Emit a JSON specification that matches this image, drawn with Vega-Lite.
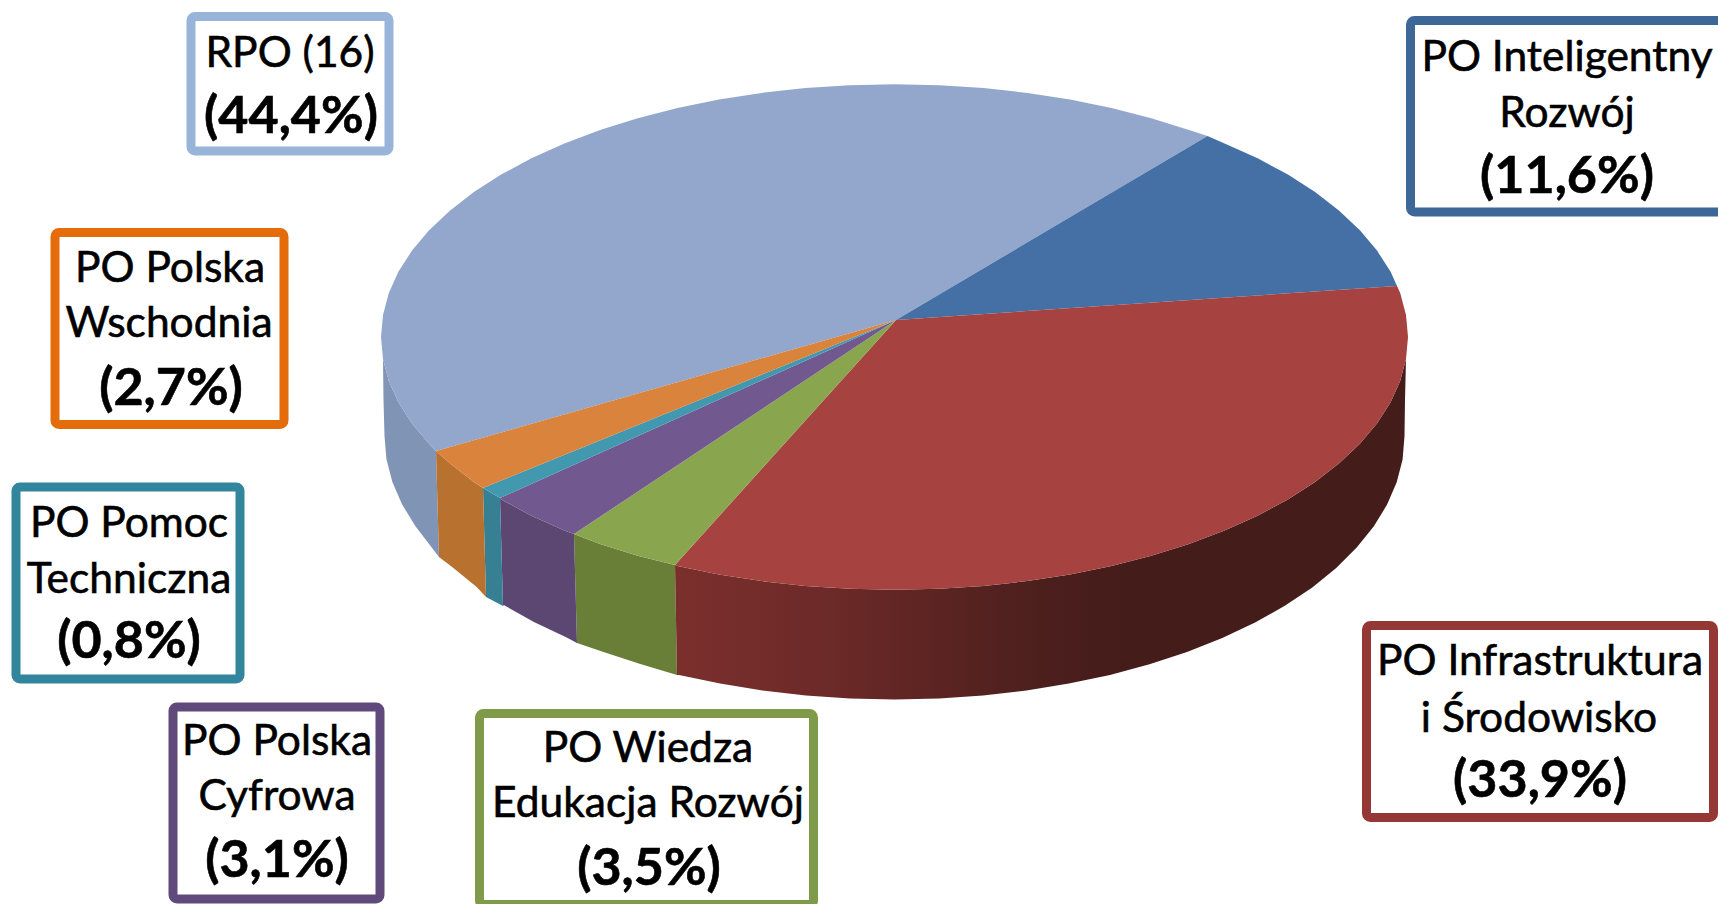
{
"$schema":"https://vega.github.io/schema/vega-lite/v6.json",
"width":1718,"height":904,"padding":0,"autosize":{"type":"none"},"background":"#ffffff",
"config":{"view":{"stroke":null}},
"datasets":{
"slices":[
{"name":"RPO (16)","share":44.4,"label":"(44,4%)","left":191,"right":389,"top":16.5,"bottom":151,"labelX":291,"labelY":133,
"face":{"type":"Polygon","coordinates":[[[896,320],[1207.5,136],[1189,130],[1151.3,118.2],[1111.5,108],[1070.1,99.5],[1027.4,92.9],[983.6,88.1],[939.3,85.3],[894.5,84.3],[849.7,85.3],[805.4,88.1],[761.6,92.9],[718.9,99.5],[677.5,108],[637.7,118.2],[600,130],[564.4,143.4],[531.4,158.3],[501.1,174.6],[473.9,192],[449.8,210.7],[429.1,230.2],[412,250.6],[398.5,271.6],[388.8,293.1],[383,315],[381,337],[383,359],[388.8,380.9],[398.5,402.4],[412,423.4],[429.1,443.8],[436,451],[896,320]]]},
"wall":{"type":"Polygon","coordinates":[[[383,359],[388.8,380.9],[398.5,402.4],[412,423.4],[429.1,443.8],[436,451],[439,557],[415.3,525.9],[401.9,504.1],[392.3,481.7],[386.4,458.9],[384.5,436],[383.5,400],[383,359]]]}},
{"name":"PO Inteligentny Rozwój","share":11.6,"label":"(11,6%)","left":1410.5,"right":1726,"top":20.5,"bottom":212,"labelX":1567,"labelY":193,
"face":{"type":"Polygon","coordinates":[[[896,320],[1397,286],[1390.5,271.6],[1377,250.6],[1359.9,230.2],[1339.2,210.7],[1315.1,192],[1287.9,174.6],[1257.6,158.3],[1224.6,143.4],[1207.5,136],[896,320]]]}},
{"name":"PO Infrastruktura i Środowisko","share":33.9,"label":"(33,9%)","left":1366.5,"right":1713.5,"top":625.5,"bottom":817.5,"labelX":1540,"labelY":797,
"face":{"type":"Polygon","coordinates":[[[896,320],[1397,286],[1400.2,293.1],[1406,315],[1408,337],[1406,359],[1400.2,380.9],[1390.5,402.4],[1377,423.4],[1359.9,443.8],[1339.2,463.3],[1315.1,482],[1287.9,499.4],[1257.6,515.7],[1224.6,530.6],[1189,544],[1151.3,555.8],[1111.5,566],[1070.1,574.5],[1027.4,581.1],[983.6,585.9],[939.3,588.7],[894.5,589.7],[849.7,588.7],[805.4,585.9],[761.6,581.1],[718.9,574.5],[677.5,566],[675,565],[896,320]]]},
"wall":{"type":"Polygon","coordinates":[[[675,565],[677.5,566],[718.9,574.5],[761.6,581.1],[805.4,585.9],[849.7,588.7],[894.5,589.7],[939.3,588.7],[983.6,585.9],[1027.4,581.1],[1070.1,574.5],[1111.5,566],[1151.3,555.8],[1189,544],[1224.6,530.6],[1257.6,515.7],[1287.9,499.4],[1315.1,482],[1339.2,463.3],[1359.9,443.8],[1377,423.4],[1390.5,402.4],[1400.2,380.9],[1406,359],[1405,400],[1404.5,436],[1402.6,459.4],[1396.7,482.2],[1387.1,504.6],[1373.7,526.5],[1356.7,547.6],[1336.2,568],[1312.3,587.4],[1285.2,605.6],[1255.1,622.5],[1222.3,638],[1187,651.9],[1149.5,664.3],[1110,674.9],[1068.9,683.6],[1026.5,690.5],[983.1,695.5],[939,698.5],[894.5,699.5],[850,698.5],[805.9,695.5],[762.5,690.5],[720.1,683.6],[679,674.9],[677,675],[675,565]]]}},
{"name":"PO Wiedza Edukacja Rozwój","share":3.5,"label":"(3,5%)","left":479.5,"right":813.5,"top":713.5,"bottom":904.5,"labelX":649,"labelY":885,
"face":{"type":"Polygon","coordinates":[[[896,320],[675,565],[637.7,555.8],[600,544],[574,534],[896,320]]]},
"wall":{"type":"Polygon","coordinates":[[[574,534],[600,544],[637.7,555.8],[675,565],[677,675],[639.5,663.8],[602,651.4],[577,643],[574,534]]]}},
{"name":"PO Polska Cyfrowa","share":3.1,"label":"(3,1%)","left":173,"right":380,"top":707,"bottom":899,"labelX":277,"labelY":877,
"face":{"type":"Polygon","coordinates":[[[896,320],[574,534],[564.4,530.6],[531.4,515.7],[501.1,499.4],[500,498],[896,320]]]},
"wall":{"type":"Polygon","coordinates":[[[500,498],[501.1,499.4],[531.4,515.7],[564.4,530.6],[574,534],[577,643],[566.7,637.5],[533.9,622],[503.8,605.1],[503,606],[500,498]]]}},
{"name":"PO Pomoc Techniczna","share":0.8,"label":"(0,8%)","left":16,"right":240,"top":487,"bottom":679,"labelX":129,"labelY":658,
"face":{"type":"Polygon","coordinates":[[[896,320],[500,498],[483,488],[896,320]]]},
"wall":{"type":"Polygon","coordinates":[[[483,488],[500,498],[503,606],[486,597],[483,488]]]}},
{"name":"PO Polska Wschodnia","share":2.7,"label":"(2,7%)","left":55,"right":284,"top":232.5,"bottom":424.5,"labelX":171,"labelY":405,
"face":{"type":"Polygon","coordinates":[[[896,320],[483,488],[473.9,482],[449.8,463.3],[436,451],[896,320]]]},
"wall":{"type":"Polygon","coordinates":[[[436,451],[449.8,463.3],[473.9,482],[483,488],[486,597],[476.7,586.9],[452.8,567.5],[439,557],[436,451]]]}}
],
"lines":[
{"line":"RPO (16)","x":290,"y":67},
{"line":"PO Inteligentny","x":1567,"y":71},
{"line":"Rozwój","x":1567,"y":127},
{"line":"PO Infrastruktura","x":1540,"y":675},
{"line":"i Środowisko","x":1539,"y":732},
{"line":"PO Wiedza","x":648,"y":762},
{"line":"Edukacja Rozwój","x":648,"y":817},
{"line":"PO Polska","x":277,"y":755},
{"line":"Cyfrowa","x":277,"y":810},
{"line":"PO Pomoc","x":129,"y":537},
{"line":"Techniczna","x":129,"y":593},
{"line":"PO Polska","x":170,"y":282},
{"line":"Wschodnia","x":169,"y":337}
]},
"layer":[
{"data":{"name":"slices"},
 "transform":[{"filter":"isValid(datum.wall) && datum.name !== 'PO Infrastruktura i Środowisko'"}],
 "projection":{"type":"identity","scale":1,"translate":[0,0]},
 "mark":{"type":"geoshape","strokeWidth":0},
 "encoding":{"shape":{"field":"wall","type":"geojson"},
  "fill":{"field":"name","type":"nominal","legend":null,"scale":{"domain":["RPO (16)","PO Wiedza Edukacja Rozwój","PO Polska Cyfrowa","PO Pomoc Techniczna","PO Polska Wschodnia"],"range":["#8094B5","#697F38","#5C4672","#377F92","#B8712F"]}}}},
{"data":{"name":"slices"},
 "transform":[{"filter":"datum.name === 'PO Infrastruktura i Środowisko'"}],
 "projection":{"type":"identity","scale":1,"translate":[0,0]},
 "mark":{"type":"geoshape","strokeWidth":0,"fill":{"gradient":"linear","x1":0,"x2":1,"y1":0,"y2":0,"stops":[{"offset":0,"color":"#7B2F2D"},{"offset":0.2,"color":"#6D2A28"},{"offset":0.5,"color":"#4C1F1D"},{"offset":0.62,"color":"#441C1A"},{"offset":1,"color":"#441C1A"}]}},
 "encoding":{"shape":{"field":"wall","type":"geojson"}}},
{"data":{"name":"slices"},
 "projection":{"type":"identity","scale":1,"translate":[0,0]},
 "mark":{"type":"geoshape","strokeWidth":0},
 "encoding":{"shape":{"field":"face","type":"geojson"},
  "color":{"field":"name","type":"nominal","legend":null,"scale":{"domain":["RPO (16)","PO Inteligentny Rozwój","PO Infrastruktura i Środowisko","PO Wiedza Edukacja Rozwój","PO Polska Cyfrowa","PO Pomoc Techniczna","PO Polska Wschodnia"],"range":["#93A7CD","#4470A6","#A6423F","#89A54E","#71588F","#4198AF","#D9833C"]}}}},
{"data":{"name":"slices"},
 "mark":{"type":"rect","fill":"#ffffff","strokeWidth":9,"cornerRadius":4,"clip":true},
 "encoding":{
  "x":{"field":"left","type":"quantitative","axis":null,"scale":{"domain":[0,1718]}},
  "x2":{"field":"right"},
  "y":{"field":"top","type":"quantitative","axis":null,"scale":{"domain":[0,904],"reverse":true}},
  "y2":{"field":"bottom"},
  "stroke":{"field":"name","type":"nominal","legend":null,"scale":{"domain":["RPO (16)","PO Inteligentny Rozwój","PO Infrastruktura i Środowisko","PO Wiedza Edukacja Rozwój","PO Polska Cyfrowa","PO Pomoc Techniczna","PO Polska Wschodnia"],"range":["#98B5D9","#3D6797","#953735","#7F9A48","#604A7B","#31859C","#E46C0A"]}}}},
{"data":{"name":"lines"},
 "mark":{"type":"text","font":"Lato","fontSize":42.5,"fontWeight":"normal","color":"#000000","stroke":"#000000","strokeWidth":0.6,"align":"center","baseline":"alphabetic"},
 "encoding":{
  "x":{"field":"x","type":"quantitative","axis":null,"scale":{"domain":[0,1718]}},
  "y":{"field":"y","type":"quantitative","axis":null,"scale":{"domain":[0,904],"reverse":true}},
  "text":{"field":"line","type":"nominal"}}},
{"data":{"name":"slices"},
 "mark":{"type":"text","font":"Lato","fontSize":52,"fontWeight":"bold","color":"#000000","stroke":"#000000","strokeWidth":0.6,"align":"center","baseline":"alphabetic"},
 "encoding":{
  "x":{"field":"labelX","type":"quantitative","axis":null,"scale":{"domain":[0,1718]}},
  "y":{"field":"labelY","type":"quantitative","axis":null,"scale":{"domain":[0,904],"reverse":true}},
  "text":{"field":"label","type":"nominal"}}}
]
}
